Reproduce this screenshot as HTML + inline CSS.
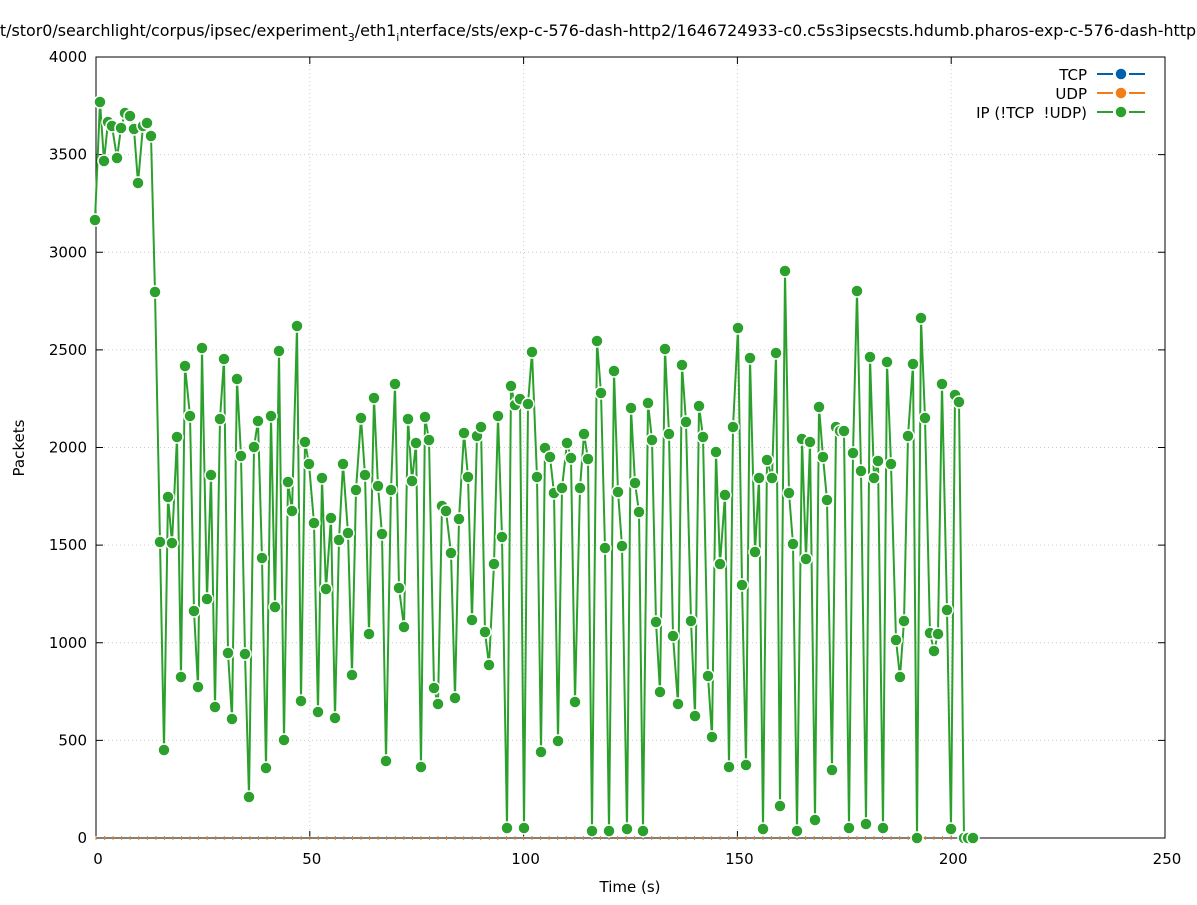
<!DOCTYPE html>
<html><head><meta charset="utf-8"><style>
body{margin:0;background:#fff}
svg text{font-family:"DejaVu Sans","Liberation Sans",sans-serif;font-size:15px;fill:#000;white-space:pre}
</style></head><body>
<svg id="s" width="1197" height="900" xmlns="http://www.w3.org/2000/svg">
<rect width="1197" height="900" fill="#fff"/>
<g id="grid" stroke="#ccc" stroke-width="1" stroke-dasharray="1,3"></g>
<rect x="96" y="57" width="1069" height="781" fill="none" stroke="#000" stroke-width="1"/>
<g id="ticks" stroke="#000"></g>
<g id="lbl"></g>
<text x="598" y="36" text-anchor="middle" style="font-size:15.9px">t/stor0/searchlight/corpus/ipsec/experiment<tspan font-size="11" dy="5">3</tspan><tspan dy="-5">/eth1</tspan><tspan font-size="11" dy="5">i</tspan><tspan dy="-5">nterface/sts/exp-c-576-dash-http2/1646724933-c0.c5s3ipsecsts.hdumb.pharos-exp-c-576-dash-http</tspan></text>
<text x="630" y="892" text-anchor="middle">Time (s)</text>
<text transform="translate(24,448) rotate(-90)" text-anchor="middle">Packets</text>
<g>
<text x="1087" y="80" text-anchor="end">TCP</text>
<line x1="1097" y1="74" x2="1113" y2="74" stroke="#0060ad" stroke-width="2"/><line x1="1129" y1="74" x2="1145" y2="74" stroke="#0060ad" stroke-width="2"/><circle cx="1121" cy="74" r="6" fill="#0060ad" stroke="#fff" stroke-width="1.5"/>
<text x="1087" y="99" text-anchor="end">UDP</text>
<line x1="1097" y1="93" x2="1113" y2="93" stroke="#f47c16" stroke-width="2"/><line x1="1129" y1="93" x2="1145" y2="93" stroke="#f47c16" stroke-width="2"/><circle cx="1121" cy="93" r="6" fill="#f47c16" stroke="#fff" stroke-width="1.5"/>
<text x="1087" y="118" text-anchor="end" xml:space="preserve">IP (!TCP  !UDP)</text>
<line x1="1097" y1="112" x2="1113" y2="112" stroke="#2ca02c" stroke-width="2"/><line x1="1129" y1="112" x2="1145" y2="112" stroke="#2ca02c" stroke-width="2"/><circle cx="1121" cy="112" r="6" fill="#2ca02c" stroke="#fff" stroke-width="1.5"/>
</g>
<g id="data"></g>
</svg>
<script>
var ns="http://www.w3.org/2000/svg";
function el(p,t,a,txt){var e=document.createElementNS(ns,t);for(var k in a)e.setAttribute(k,a[k]);if(txt!=null)e.textContent=txt;document.getElementById(p).appendChild(e);return e;}
for(var i=0;i<=5;i++){var x=96+i*213.8;el('grid','line',{x1:x,y1:57,x2:x,y2:838});el('ticks','line',{x1:x,y1:838,x2:x,y2:831});el('ticks','line',{x1:x,y1:57,x2:x,y2:64});el('lbl','text',{x:x+2,y:864,'text-anchor':'middle'},i*50);}
for(var i=0;i<=8;i++){var y=838-i*97.625;el('grid','line',{x1:96,y1:y,x2:1165,y2:y});el('ticks','line',{x1:96,y1:y,x2:103,y2:y});el('ticks','line',{x1:1165,y1:y,x2:1158,y2:y});el('lbl','text',{x:87,y:y+5,'text-anchor':'end'},i*500);}
var d=[[95,220],[100,102],[104,161],[108,122],[112,126],[117,158],[121,128],[125,113],[130,116],[134,129],[138,183],[143,126],[147,123],[151,136],[155,292],[160,542],[164,750],[168,497],[172,543],[177,437],[181,677],[185,366],[190,416],[194,611],[198,687],[202,348],[207,599],[211,475],[215,707],[220,419],[224,359],[228,653],[232,719],[237,379],[241,456],[245,654],[249,797],[254,447],[258,421],[262,558],[266,768],[271,416],[275,607],[279,351],[284,740],[288,482],[292,511],[297,326],[301,701],[305,442],[309,464],[314,523],[318,712],[322,478],[326,589],[331,518],[335,718],[339,540],[343,464],[348,533],[352,675],[356,490],[361,418],[365,475],[369,634],[374,398],[378,486],[382,534],[386,761],[391,490],[395,384],[399,588],[404,627],[408,419],[412,481],[416,443],[421,767],[425,417],[429,440],[434,688],[438,704],[442,506],[446,511],[451,553],[455,698],[459,519],[464,433],[468,477],[472,620],[477,436],[481,427],[485,632],[489,665],[494,564],[498,416],[502,537],[507,828],[511,386],[515,405],[520,399],[524,828],[528,404],[532,352],[537,477],[541,752],[545,448],[550,457],[554,493],[558,741],[562,488],[567,443],[571,458],[575,702],[580,488],[584,434],[588,459],[592,831],[597,341],[601,393],[605,548],[609,831],[614,371],[618,492],[622,546],[627,829],[631,408],[635,483],[639,512],[643,831],[648,403],[652,440],[656,622],[660,692],[665,349],[669,434],[673,636],[678,704],[682,365],[686,422],[691,621],[695,716],[699,406],[703,437],[708,676],[712,737],[716,452],[720,564],[725,495],[729,767],[733,427],[738,328],[742,585],[746,765],[750,358],[755,552],[759,478],[763,829],[767,460],[772,478],[776,353],[780,806],[785,271],[789,493],[793,544],[797,831],[802,439],[806,559],[810,442],[815,820],[819,407],[823,457],[827,500],[832,770],[836,427],[840,431],[844,431],[849,828],[853,453],[857,291],[861,471],[866,824],[870,357],[874,478],[878,461],[883,828],[887,362],[891,464],[896,640],[900,677],[904,621],[908,436],[913,364],[917,838],[921,318],[925,418],[930,633],[934,651],[938,634],[942,384],[947,610],[951,829],[955,395],[959,402],[964,838],[968,838],[973,838]];
for(var x=96;x<=973;x+=8.55){el('data','line',{x1:x,y1:836,x2:x,y2:840,stroke:'#f47c16','stroke-width':1});}
el('data','polyline',{points:d.map(function(p){return p.join(',')}).join(' '),fill:'none',stroke:'#2ca02c','stroke-width':2});
d.forEach(function(p){el('data','circle',{cx:p[0],cy:p[1],r:6,fill:'#2ca02c',stroke:'#fff','stroke-width':1.5});});
</script>
</body></html>
